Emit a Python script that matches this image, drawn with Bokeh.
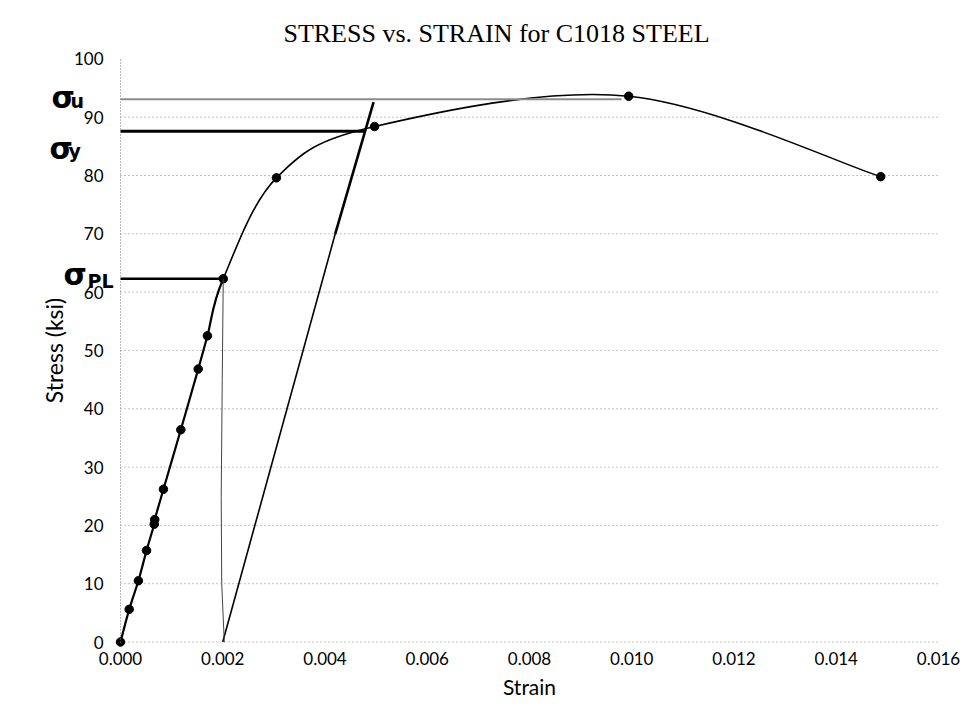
import numpy as np
from bokeh.plotting import figure
from bokeh.models import Range1d, Label, FixedTicker, ColumnDataSource, PrintfTickFormatter, LinearAxis
from bokeh.embed import file_html
from bokeh.resources import INLINE

# ---- data ----
strain = [0.0, 0.00017, 0.00035, 0.00051, 0.00066, 0.00067, 0.00084, 0.00118,
          0.00152, 0.00170, 0.00201, 0.00305, 0.00497, 0.00994, 0.01487]
stress = [0.0, 5.6, 10.5, 15.7, 20.2, 21.0, 26.2, 36.4,
          46.8, 52.5, 62.3, 79.6, 88.4, 93.6, 79.8]

x_ticks = [0.000, 0.002, 0.004, 0.006, 0.008, 0.010, 0.012, 0.014, 0.016]
y_ticks = [0, 10, 20, 30, 40, 50, 60, 70, 80, 90, 100]
grid_levels = [0, 10, 20, 30, 40, 50, 60, 70, 80, 90]

# hand-drawn annotations (strain, stress)
su_level, su_end = 93.1, 0.0098      # ultimate strength line
sy_level, sy_end = 87.6, 0.0048      # yield strength line
spl_level, spl_end = 62.3, 0.00201   # proportional limit line
offset_x = [0.0020, 0.00420, 0.00495]  # 0.2% offset line
offset_y = [0.0, 70.0, 92.6]
drop_x = [0.00201, 0.00199, 0.00197, 0.00198, 0.00203]
drop_y = [62.3, 45.0, 25.0, 10.0, 0.0]

title_text = "STRESS vs. STRAIN for C1018 STEEL"

# ---- layout: the frame fills the canvas; axes are pinned at the origin ----
W, H = 965, 704
X0_PX, X1_PX = 120.0, 938.0      # pixel columns of strain 0 and 0.016
Y0_PX, Y100_PX = 641.5, 58.4     # pixel rows of stress 0 and 100
sx = (x_ticks[-1] - x_ticks[0]) / (X1_PX - X0_PX)
sy = (y_ticks[-1] - y_ticks[0]) / (Y0_PX - Y100_PX)

def px_x(px):
    return (px - X0_PX) * sx

def px_y(py):
    return (Y0_PX - py) * sy

p = figure(width=W, height=H, output_backend="svg", toolbar_location=None,
           x_range=Range1d(px_x(0), px_x(W)), y_range=Range1d(px_y(H), px_y(0)),
           x_axis_type=None, y_axis_type=None,
           min_border_left=0, min_border_right=0, min_border_top=0, min_border_bottom=0)
p.outline_line_color = None
p.background_fill_color = "white"
p.border_fill_color = "white"
p.grid.grid_line_color = None

# axes pinned at the data origin
xaxis = LinearAxis(fixed_location=0, bounds=(x_ticks[0], x_ticks[-1]),
                   ticker=FixedTicker(ticks=x_ticks),
                   formatter=PrintfTickFormatter(format="%.3f"))
yaxis = LinearAxis(fixed_location=0, bounds=(y_ticks[0], y_ticks[-1]),
                   ticker=FixedTicker(ticks=y_ticks))
for ax in (xaxis, yaxis):
    ax.major_tick_line_color = None
    ax.minor_tick_line_color = None
    ax.major_tick_out = 0
    ax.major_tick_in = 0
    ax.major_label_text_font = "Lato"
    ax.major_label_text_font_size = "17px"
    ax.major_label_text_color = "black"
    ax.axis_label_text_font = "Lato"
    ax.axis_label_text_font_style = "normal"
    ax.axis_label_text_color = "black"
xaxis.axis_line_color = None
yaxis.axis_line_color = "#777777"
yaxis.axis_line_dash = "1 2"
xaxis.major_label_standoff = 10
yaxis.major_label_standoff = 17
xaxis.axis_label = "Strain"
xaxis.axis_label_text_font_size = "21px"
xaxis.axis_label_standoff = 5
yaxis.axis_label = "Stress (ksi)"
yaxis.axis_label_text_font_size = "23px"
yaxis.axis_label_standoff = 3
p.add_layout(xaxis, "below")
p.add_layout(yaxis, "left")

# horizontal dotted gridlines across the plotting area
p.segment(x0=[x_ticks[0]] * len(grid_levels), y0=grid_levels,
          x1=[x_ticks[-1]] * len(grid_levels), y1=grid_levels,
          line_color="#8a8a8a", line_dash="1 3", line_width=1)

# smoothed curve (Catmull-Rom style Bezier through the data points)
xs = np.array(strain)
ys = np.array(stress)
n = len(xs)
x0, y0, x1, y1, cx0, cy0, cx1, cy1, lw = [], [], [], [], [], [], [], [], []
for i in range(n - 1):
    im1 = max(i - 1, 0)
    ip2 = min(i + 2, n - 1)
    x0.append(xs[i]); y0.append(ys[i])
    x1.append(xs[i + 1]); y1.append(ys[i + 1])
    cx0.append(xs[i] + (xs[i + 1] - xs[im1]) / 6.0)
    cy0.append(ys[i] + (ys[i + 1] - ys[im1]) / 6.0)
    cx1.append(xs[i + 1] - (xs[ip2] - xs[i]) / 6.0)
    cy1.append(ys[i + 1] - (ys[ip2] - ys[i]) / 6.0)
    lw.append(2.2 if i < 10 else 1.6)
src = ColumnDataSource(dict(x0=x0, y0=y0, x1=x1, y1=y1, cx0=cx0, cy0=cy0,
                            cx1=cx1, cy1=cy1, lw=lw))
p.bezier(x0="x0", y0="y0", x1="x1", y1="y1", cx0="cx0", cy0="cy0",
         cx1="cx1", cy1="cy1", line_color="black", line_width="lw", source=src)
p.scatter(strain, stress, size=8.5, color="black")

# hand-drawn lines
p.line([0, su_end], [su_level, su_level], line_color="#8c8c8c", line_width=2)
p.line([0, sy_end], [sy_level, sy_level], line_color="black", line_width=3)
p.line([0, spl_end], [spl_level, spl_level], line_color="black", line_width=2.5)
p.line(offset_x[:2], offset_y[:2], line_color="black", line_width=1.6)
p.line(offset_x[1:], offset_y[1:], line_color="black", line_width=2.6)
p.line(drop_x, drop_y, line_color="#444444", line_width=1)

# title
p.add_layout(Label(x=px_x(496), y=px_y(33), text=title_text, text_align="center",
                   text_baseline="middle", text_font="Liberation Serif",
                   text_font_size="26px", text_color="black"))

# handwritten sigma labels
hand = dict(text_color="black", text_font="DejaVu Sans", text_font_style="bold",
            text_baseline="alphabetic", text_align="left")
p.add_layout(Label(x=px_x(51), y=px_y(97), text="σ", text_font_size="30px", **hand))
p.add_layout(Label(x=px_x(70), y=px_y(100), text="u", text_font_size="19px", **hand))
p.add_layout(Label(x=px_x(49), y=px_y(148), text="σ", text_font_size="30px", **hand))
p.add_layout(Label(x=px_x(68), y=px_y(150), text="y", text_font_size="19px", **hand))
p.add_layout(Label(x=px_x(63), y=px_y(274), text="σ", text_font_size="30px", **hand))
p.add_layout(Label(x=px_x(87), y=px_y(280), text="PL", text_font_size="19px", **hand))

open("out.html", "w").write(file_html(p, INLINE))
